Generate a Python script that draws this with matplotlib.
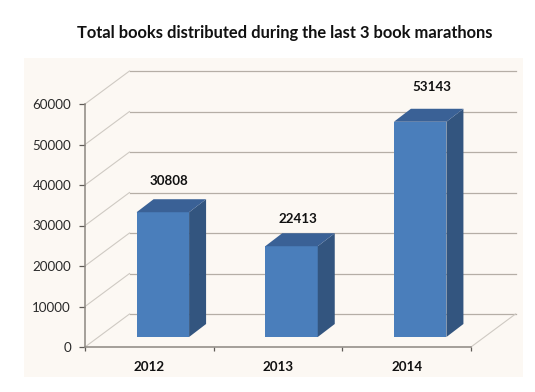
#Total books distributed, drawn as a fake 3D column chart
import matplotlib
matplotlib.use("Agg")
import matplotlib.pyplot as plt
from matplotlib.patches import Polygon, Rectangle

plt.rcParams['font.family'] = ['Lato', 'DejaVu Sans']

years = ['2012', '2013', '2014']
books = [30808, 22413, 53143]
y_ticks = [0, 10000, 20000, 30000, 40000, 50000, 60000]

W, H = 535, 392
fig = plt.figure(figsize=(W/100, H/100), dpi=100, facecolor='white')

#panel behind the chart
fig.patches.append(Rectangle((24/W, 1-377/H), 499/W, 319/H, transform=fig.transFigure,
                             facecolor='#fcf8f3', edgecolor='none', zorder=-1))

#the axes is the front plane of the box, everything else is offset from it
ax = fig.add_axes([85/W, 1-347/H, 386/W, 243/H], zorder=2)
ax.patch.set_alpha(0)
ax.set_xlim(0, 3)
ax.set_ylim(0, 60000)

#pixels to data units
px_x = 3/386
px_y = 60000/243

#depth of the box and of the bars
box_dx, box_dy = 44.5*px_x, 33*px_y
bar_dx, bar_dy = 17*px_x, 13*px_y
bar_off_x, bar_off_y = 13.5*px_x, 10*px_y
bar_w = 52.5*px_x

#walls
for v in y_ticks:
    ax.plot([0, box_dx], [v, v+box_dy], color='#cfcac3', lw=0.8, clip_on=False, zorder=1)
    ax.plot([box_dx, 3+box_dx], [v+box_dy, v+box_dy], color='#b5aea6', lw=0.9, clip_on=False, zorder=1)
ax.plot([3, 3+box_dx], [0, box_dy], color='#cfcac3', lw=0.8, clip_on=False, zorder=1)

#bars
for i, v in enumerate(books):
    x0 = i + 0.5 - bar_w/2 + bar_off_x
    x1 = x0 + bar_w
    y0 = bar_off_y
    y1 = bar_off_y + v
    ax.add_patch(Rectangle((x0, y0), bar_w, v, facecolor='#4a7ebb', edgecolor='none',
                           clip_on=False, zorder=3))
    ax.add_patch(Polygon([(x1, y0), (x1+bar_dx, y0+bar_dy), (x1+bar_dx, y1+bar_dy), (x1, y1)],
                         facecolor='#33557f', edgecolor='none', clip_on=False, zorder=3))
    ax.add_patch(Polygon([(x0, y1), (x0+bar_dx, y1+bar_dy), (x1+bar_dx, y1+bar_dy), (x1, y1)],
                         facecolor='#3a6196', edgecolor='none', clip_on=False, zorder=3))

#value labels
label_off = [(20, 18), (20, 14.5), (25.5, 21.5)]
for i, v in enumerate(books):
    ax.annotate(str(v), (i+0.5, bar_off_y + v + bar_dy), xytext=(label_off[i][0]*0.72, label_off[i][1]*0.72),
                textcoords='offset points', ha='center', va='center', fontsize=9.6,
                fontweight='bold', color='#111111', annotation_clip=False, zorder=5)

#axes lines and ticks
for s in ['top', 'right']:
    ax.spines[s].set_visible(False)
for s in ['left', 'bottom']:
    ax.spines[s].set_color('#8c8781')
    ax.spines[s].set_linewidth(1.1)
    ax.spines[s].set_zorder(4)

ax.set_yticks(y_ticks)
ax.set_yticklabels([str(v) for v in y_ticks])
ax.set_xticks([0, 1, 2, 3])
ax.set_xticklabels([])
ax.set_xticks([0.5, 1.5, 2.5], minor=True)
ax.set_xticklabels(years, minor=True, fontsize=9.6, fontweight='bold', color='#111111')
ax.tick_params(axis='x', which='major', length=3, width=0.9, color='#5f5b57')
ax.tick_params(axis='x', which='minor', length=0, pad=10)
ax.tick_params(axis='y', length=4, width=0.9, color='#5f5b57', labelsize=9.6, labelcolor='#2a2a2a', pad=6)

fig.text(285/W, 1-33/H, 'Total books distributed during the last 3 book marathons',
         ha='center', va='center', fontsize=11.9, fontweight='bold', color='#111111')

fig.savefig('out.png', dpi=100)
